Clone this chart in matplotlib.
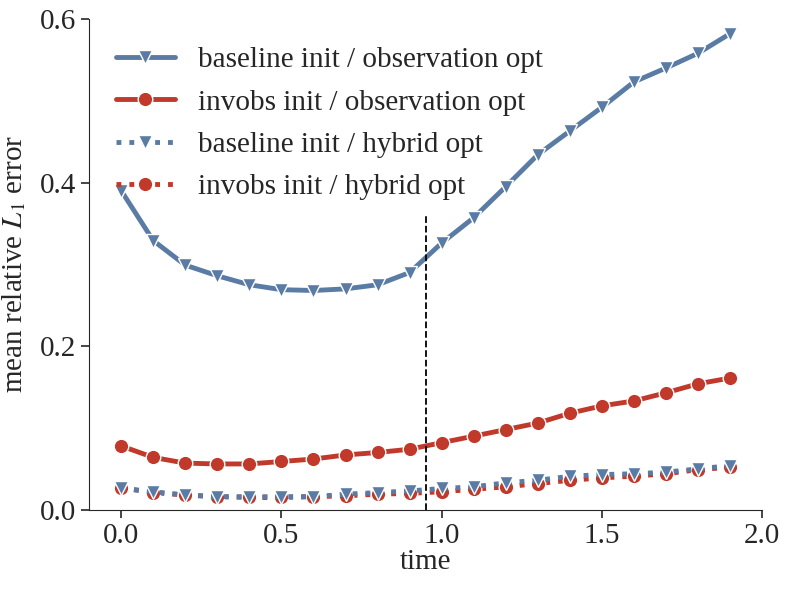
import matplotlib
matplotlib.use('Agg')
import matplotlib.pyplot as plt
import seaborn as sns

sns.set_style('ticks')
plt.rcParams['font.family'] = ['Liberation Serif', 'DejaVu Serif']
plt.rcParams['mathtext.fontset'] = 'stix'

time = [0.0, 0.1, 0.2, 0.3, 0.4, 0.5, 0.6, 0.7, 0.8, 0.9,
        1.0, 1.1, 1.2, 1.3, 1.4, 1.5, 1.6, 1.7, 1.8, 1.9]
baseline_obs = [0.390, 0.329, 0.299, 0.286, 0.275, 0.269, 0.268, 0.270, 0.275, 0.290,
                0.326, 0.357, 0.395, 0.434, 0.463, 0.492, 0.523, 0.540, 0.558, 0.582]
invobs_obs = [0.078, 0.064, 0.057, 0.056, 0.056, 0.059, 0.062, 0.067, 0.070, 0.074,
              0.082, 0.090, 0.098, 0.106, 0.118, 0.127, 0.133, 0.143, 0.154, 0.161]
baseline_hyb = [0.026, 0.022, 0.018, 0.016, 0.016, 0.016, 0.016, 0.019, 0.021, 0.023,
                0.026, 0.028, 0.033, 0.036, 0.041, 0.043, 0.044, 0.046, 0.050, 0.054]
invobs_hyb = [0.027, 0.021, 0.018, 0.016, 0.015, 0.015, 0.016, 0.017, 0.019, 0.020,
              0.022, 0.025, 0.028, 0.032, 0.036, 0.039, 0.041, 0.044, 0.049, 0.052]

blue = '#5a7ca4'
red = '#c0392b'
fs = 21

fig = plt.figure(figsize=(7.89, 5.90), dpi=100)
ax = fig.add_axes([0.113, 0.136, 0.853, 0.832])

kw = dict(lw=3.5, ms=10.5, mec='white', mew=1.0)
ax.plot(time, baseline_obs, color=blue, marker='v', ls='-', label='baseline init / observation opt', **kw)
ax.plot(time, invobs_obs, color=red, marker='o', ls='-', label='invobs init / observation opt', **kw)
ax.plot(time, invobs_hyb, color=red, marker='o', ls=':', label='invobs init / hybrid opt', **kw)
ax.plot(time, baseline_hyb, color=blue, marker='v', ls=':', label='baseline init / hybrid opt', **kw)

ax.axvline(0.95, ymin=0, ymax=0.6, color='black', ls='--', lw=1.3)

ax.set_xlim(-0.1, 2.0)
ax.set_ylim(0, 0.6)
ax.set_xticks([0.0, 0.5, 1.0, 1.5, 2.0])
ax.set_yticks([0.0, 0.2, 0.4, 0.6])
ax.tick_params(labelsize=fs, length=6, width=1.2)
ax.set_xlabel('time', fontsize=fs, labelpad=0)
ax.set_ylabel('mean relative $L_1$ error', fontsize=fs, labelpad=8)
sns.despine(ax=ax)

h, l = ax.get_legend_handles_labels()
order = [0, 1, 3, 2]
ax.legend([h[i] for i in order], [l[i] for i in order], loc='upper left',
          frameon=False, fontsize=fs, handlelength=2.0, borderaxespad=0.3,
          labelspacing=0.55, bbox_to_anchor=(0.01, 0.985))

fig.savefig('out.png', dpi=100)
